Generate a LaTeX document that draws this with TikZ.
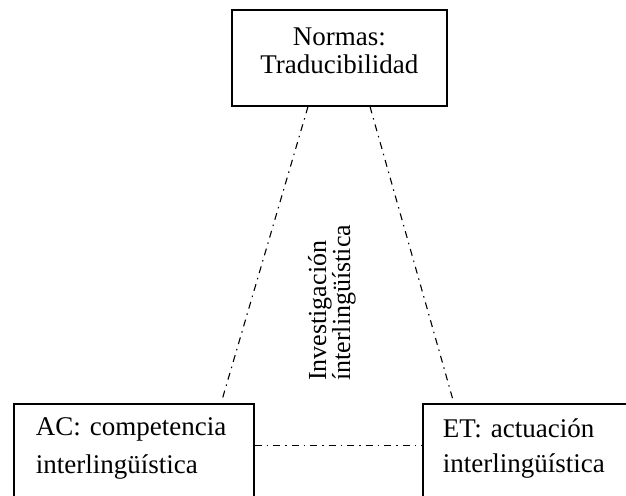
\documentclass[tikz,border=0pt]{standalone}
\usepackage{fontspec}
\setmainfont{Liberation Serif}
\begin{document}
\begin{tikzpicture}[x=1pt,y=-1pt,
    caja/.style={draw=black,line width=1.6pt,anchor=north west,inner ysep=0pt},
    trazo/.style={black,line width=1.1pt,dash pattern=on 7pt off 5pt on 1.5pt off 5pt}]
    \useasboundingbox (0,0) rectangle (626,495);
    \clip (0,0) rectangle (626,495);

    % cajas
    \node[caja,inner xsep=0pt,text width=215pt,align=center,text height=36pt,text depth=60pt,
          font=\fontsize{27}{28}\selectfont] (normas) at (231,9) {Normas:\\Traducibilidad};
    \node[caja,inner xsep=22pt,text width=196pt,align=left,text height=32pt,text depth=78pt,
          font=\fontsize{27}{38}\selectfont] (ac) at (13,403) {AC: competencia\\interlingüística};
    \node[caja,inner xsep=20pt,text width=170pt,align=left,text height=34pt,text depth=76pt,
          font=\fontsize{27}{35}\selectfont] (et) at (422,403) {ET: actuación\\interlingüística};

    % texto vertical
    \node[rotate=90,anchor=base west,inner sep=0pt,text width=170pt,align=left,
          font=\fontsize{26}{24}\selectfont] (investigacion) at (326,381) {Investigación\\ínterlingüística};

    % lineas
    \draw[trazo] ([xshift=77pt]normas.south west) -- ([xshift=209pt,yshift=3pt]ac.north west);
    \draw[trazo] ([xshift=139pt]normas.south west) -- ([xshift=31pt,yshift=3pt]et.north west);
    \draw[trazo] ([yshift=13pt]ac.east) -- ([yshift=13pt]et.west);
\end{tikzpicture}
\end{document}
